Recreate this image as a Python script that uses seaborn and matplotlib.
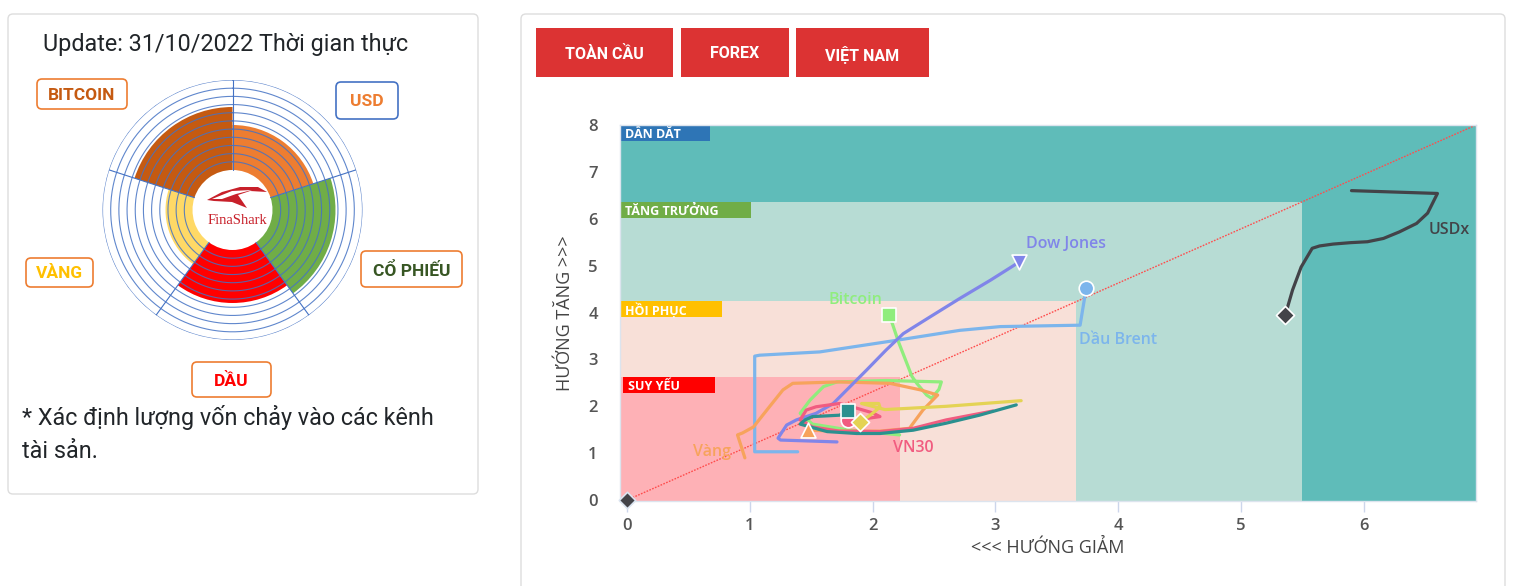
import numpy as np
import pandas as pd
import matplotlib
matplotlib.use("Agg")
import matplotlib.pyplot as plt
import seaborn as sns
from matplotlib.patches import Rectangle, FancyBboxPatch, Polygon

W, H = 1526, 586

# ---------------- data: rotation trails (tail -> head) ----------------
brent_x = [1.39, 1.04, 1.04, 1.08, 1.57, 2.20, 2.71, 3.04, 3.69, 3.71, 3.74]
brent_y = [1.03, 1.03, 3.07, 3.09, 3.16, 3.41, 3.62, 3.70, 3.73, 4.05, 4.52]

usdx_x = [5.90, 6.60, 6.56, 6.52, 6.43, 6.29, 6.16, 6.03, 5.89, 5.75, 5.64, 5.58, 5.49, 5.42, 5.36]
usdx_y = [6.60, 6.54, 6.33, 6.12, 5.90, 5.72, 5.58, 5.51, 5.49, 5.46, 5.42, 5.37, 4.97, 4.48, 3.94]

btc_x = [2.22, 1.82, 1.51, 1.41, 1.49, 1.60, 1.71, 2.11, 2.56, 2.54, 2.48, 2.44, 2.36, 2.32, 2.28, 2.21, 2.16, 2.13]
btc_y = [1.39, 1.49, 1.62, 1.85, 2.13, 2.42, 2.52, 2.55, 2.52, 2.36, 2.17, 2.24, 2.49, 2.64, 2.91, 3.38, 3.77, 3.94]

vang_x = [0.96, 0.90, 0.94, 1.03, 1.16, 1.27, 1.35, 1.73, 2.14, 2.39, 2.53, 2.41, 2.30, 2.06, 1.73, 1.47]
vang_y = [0.90, 1.39, 1.43, 1.56, 1.99, 2.35, 2.49, 2.52, 2.49, 2.35, 2.24, 1.92, 1.53, 1.47, 1.47, 1.49]

dow_x = [1.71, 1.25, 1.23, 1.30, 1.38, 1.54, 1.68, 1.79, 1.95, 2.11, 2.25, 2.47, 2.71, 2.96, 3.19]
dow_y = [1.24, 1.28, 1.32, 1.60, 1.71, 1.85, 2.06, 2.35, 2.77, 3.20, 3.55, 3.91, 4.30, 4.69, 5.07]

vn30_x = [2.98, 2.60, 2.33, 2.06, 1.73, 1.51, 1.41, 1.46, 1.54, 1.73, 1.87, 2.00, 2.06, 1.95, 1.80]
vn30_y = [1.90, 1.71, 1.53, 1.46, 1.47, 1.56, 1.71, 1.92, 1.99, 2.06, 1.96, 1.86, 1.78, 1.74, 1.71]

yel_x = [3.21, 2.60, 2.10, 1.91, 2.05, 2.06, 1.98, 1.90]
yel_y = [2.12, 2.00, 1.93, 2.06, 2.06, 1.98, 1.81, 1.66]

teal_x = [3.17, 2.87, 2.60, 2.33, 2.06, 1.87, 1.63, 1.41, 1.45, 1.51, 1.73, 1.80]
teal_y = [2.03, 1.81, 1.64, 1.49, 1.42, 1.42, 1.46, 1.62, 1.71, 1.78, 1.81, 1.90]

names = ["Dầu Brent", "USDx", "Bitcoin", "Vàng", "Dow Jones", "VN30", "S7", "S8"]
xs = [brent_x, usdx_x, btc_x, vang_x, dow_x, vn30_x, yel_x, teal_x]
ys = [brent_y, usdx_y, btc_y, vang_y, dow_y, vn30_y, yel_y, teal_y]
colors = ["#7cb5ec", "#434348", "#90ed7d", "#f7a35c", "#8085e9", "#f15c80", "#e4d354", "#2b908f"]
markers = ["o", "D", "s", "^", "v", "o", "D", "s"]

# series labels
label_text = ["Dầu Brent", "USDx", "Bitcoin", "Vàng", "Dow Jones", "VN30"]
label_x = [3.68, 6.53, 1.86, 0.69, 3.25, 2.33]
label_y = [3.41, 5.76, 4.26, 1.02, 5.46, 1.11]
label_ha = ["left", "left", "center", "center", "left", "center"]

# quadrant zones
zone_names = ["DẪN DẮT", "TĂNG TRƯỞNG", "HỒI PHỤC", "SUY YẾU"]
zone_colors = ["#5fbcb9", "#b7dcd4", "#f8e0d8", "#feb1b6"]
zone_right = [6.914, 5.50, 3.66, 2.22]
zone_top = [8.0, 6.35, 4.24, 2.62]
tag_colors = ["#2e75b6", "#70ad47", "#ffc000", "#ff0000"]
tag_width = [0.73, 1.07, 0.83, 0.75]

# polar (left panel)
polar_names = ["USD", "CỔ PHIẾU", "DẦU", "VÀNG", "BITCOIN"]
polar_radius = [85, 103, 93, 67, 103]
polar_colors = ["#ed7d31", "#70ad47", "#ff0000", "#ffd966", "#c55a11"]

X0, X1 = -0.057, 6.914
Y0, Y1 = -0.02, 8.0

sns.set_theme(style="white")
plt.rcParams["font.family"] = ["Open Sans", "DejaVu Sans"]
ROBOTO = ["Roboto", "DejaVu Sans"]

fig = plt.figure(figsize=(W / 100, H / 100), dpi=100)
bg = fig.add_axes([0, 0, 1, 1], zorder=0)
bg.set_xlim(0, W)
bg.set_ylim(H, 0)
bg.axis("off")


def rbox(x0, y0, x1, y1, fc, ec, r=4, lw=1.0):
    bg.add_patch(FancyBboxPatch((x0, y0), x1 - x0, y1 - y0,
                                boxstyle=f"round,pad=0,rounding_size={r}",
                                fc=fc, ec=ec, lw=lw))


# panels
rbox(8, 14, 478, 494, "white", "#dddddd", r=5)
rbox(521, 14, 1505, 640, "white", "#dddddd", r=5)

# buttons
for (x0, x1), txt in zip([(536, 673), (681, 789), (796, 929)], ["TOÀN CẦU", "FOREX", "VIỆT NAM"]):
    bg.add_patch(Rectangle((x0, 28), x1 - x0, 49, fc="#dc3333", ec="none"))
    bg.text((x0 + x1) / 2, 54, txt, color="white", ha="center", va="center",
            fontsize=11.5, fontweight="bold", family=ROBOTO)

# left panel texts
bg.text(43, 45, "Update: 31/10/2022 Thời gian thực", fontsize=16.8, color="#212529",
        va="center", family=ROBOTO)
bg.text(22, 417, "* Xác định lượng vốn chảy vào các kênh", fontsize=16.8, color="#212529",
        va="center", family=ROBOTO)
bg.text(22, 451, "tài sản.", fontsize=16.8, color="#212529", va="center", family=ROBOTO)

# polar label boxes
tag_boxes = [(336, 82, 398, 119), (361, 251, 462, 287), (192, 362, 271, 397),
             (26, 258, 93, 287), (37, 79, 127, 109)]
tag_edge = ["#4472c4", "#ed7d31", "#ed7d31", "#ed7d31", "#ed7d31"]
tag_text_col = ["#ed7d31", "#375623", "#ff0000", "#ffc000", "#c55a11"]
for (x0, y0, x1, y1), name, ec, tc in zip(tag_boxes, polar_names, tag_edge, tag_text_col):
    rbox(x0, y0, x1, y1, "white", ec, r=5, lw=1.2)
    bg.text((x0 + x1) / 2, (y0 + y1) / 2 + 1, name, color=tc, ha="center", va="center",
            fontsize=12.5, fontweight="bold", family=ROBOTO)

# polar chart
pax = fig.add_axes([102.5 / W, 1 - 340 / H, 260 / W, 260 / H], projection="polar", zorder=1)
pax.set_facecolor("none")
pax.set_theta_zero_location("N")
pax.set_theta_direction(-1)
theta = np.deg2rad([36, 108, 180, 252, 324])
pax.bar(theta, np.array(polar_radius) - 40, width=np.deg2rad(72), bottom=40,
        color=polar_colors, edgecolor="none", zorder=1)
tt = np.linspace(0, 2 * np.pi, 400)
for r in np.linspace(40, 130, 12)[1:]:
    pax.plot(tt, np.full_like(tt, r), color="#4472c4", lw=0.8, alpha=0.85, zorder=2)
for a in np.deg2rad([0, 72, 144, 216, 288]):
    pax.plot([a, a], [40, 130], color="#4472c4", lw=0.8, zorder=2)
pax.set_ylim(0, 130)
pax.grid(False)
pax.set_xticks([])
pax.set_yticks([])
pax.spines["polar"].set_visible(False)

# logo
logo = fig.add_axes([0, 0, 1, 1], zorder=3)
logo.set_xlim(0, W)
logo.set_ylim(H, 0)
logo.axis("off")
logo.add_patch(Polygon([(207, 200), (222, 192), (240, 187), (258, 187), (267, 192),
                        (250, 191), (238, 195), (247, 208), (232, 202), (214, 201)],
                       closed=True, fc="#c8202a", ec="none"))
logo.add_patch(Polygon([(212, 199), (232, 191), (252, 190), (236, 194), (222, 199)],
                       closed=True, fc="white", ec="none"))
logo.text(237, 221, "FinaShark", color="#c8202a", ha="center", va="center",
          fontsize=10.5, family=["Liberation Serif", "DejaVu Serif"])

# ---------------- main trail chart ----------------
ax = fig.add_axes([620 / W, 1 - 501 / H, 856 / W, 376 / H], zorder=2)
ax.set_facecolor("none")
ax.set_xlim(X0, X1)
ax.set_ylim(Y0, Y1)

for name, col, xr, yt in zip(zone_names, zone_colors, zone_right, zone_top):
    ax.add_patch(Rectangle((X0, Y0), xr - X0, yt - Y0, fc=col, ec="none", zorder=0))
for name, yt, tc, tw in zip(zone_names, zone_top, tag_colors, tag_width):
    x_start = X0 if name != "SUY YẾU" else X0 + 0.025
    ax.add_patch(Rectangle((x_start, yt - 0.34), tw, 0.34, fc=tc, ec="none", zorder=1))
    ax.text(x_start + 0.04, yt - 0.2, name, color="white", fontsize=9, fontweight="bold",
            va="center", ha="left", zorder=1)

# diagonal reference line
ax.plot([0, X1], [0, Y1], color="#ff4d4d", lw=1.0, ls=(0, (1.2, 1.0)), zorder=2)

for name, x, y, c, m in zip(names, xs, ys, colors, markers):
    df = pd.DataFrame({"x": x, "y": y})
    sns.lineplot(data=df, x="x", y="y", sort=False, estimator=None, color=c, lw=2.3,
                 ax=ax, zorder=3)
for name, x, y, c, m in zip(names, xs, ys, colors, markers):
    size = 115 if m in ("^", "v") else (85 if m == "D" else 110)
    sns.scatterplot(x=[x[-1]], y=[y[-1]], marker=m, color=c, s=size, edgecolor="white",
                    linewidth=1.2, ax=ax, zorder=5)

# origin marker
ax.scatter([0], [0], marker="D", s=70, color="#434348", edgecolor="#dbe4f0", linewidth=1.2,
           zorder=6, clip_on=False)

for t, x, y, ha in zip(label_text, label_x, label_y, label_ha):
    c = colors[names.index(t)]
    ax.text(x, y, t, color=c, fontsize=11.5, fontweight="semibold", ha=ha, va="center", zorder=6)

ax.set_xticks(range(0, 7))
ax.set_yticks(range(0, 9))
ax.tick_params(axis="x", length=8, width=1, color="#ccd6eb", labelsize=12,
               labelcolor="#555555", pad=4, bottom=True)
ax.tick_params(axis="y", length=0, labelsize=12, labelcolor="#555555", pad=16)
for lab in ax.get_xticklabels() + ax.get_yticklabels():
    lab.set_fontweight("semibold")
for s in ax.spines.values():
    s.set_color("#dce4ee")
    s.set_linewidth(1)
ax.grid(False)

ax.set_xlabel("<<< HƯỚNG GIẢM", fontsize=13, color="#444444")
ax.set_ylabel("HƯỚNG TĂNG >>>", fontsize=13, color="#444444")
ax.xaxis.set_label_coords(0.5, -0.125)
ax.xaxis.label.set_va("center")
ax.yaxis.set_label_coords(-0.064, 0.5)
ax.yaxis.label.set_va("center")
ax.yaxis.label.set_rotation_mode("anchor")

fig.savefig("out.png", dpi=100)
